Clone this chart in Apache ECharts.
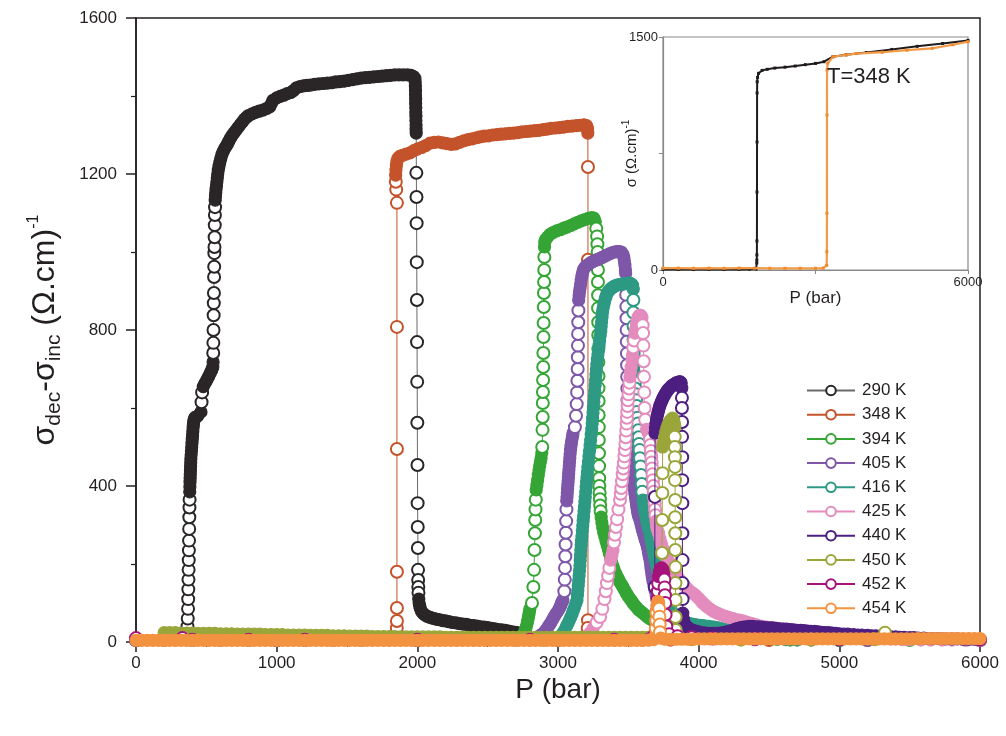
<!DOCTYPE html>
<html><head><meta charset="utf-8">
<script src="https://cdn.jsdelivr.net/npm/echarts@6/dist/echarts.min.js"></script>
<style>html,body{margin:0;padding:0;background:#fff}#c{width:1006px;height:736px}</style>
</head><body><div id="c"></div>
<script>
// ---------- data (P in bar, sigma_dec - sigma_inc in (Ohm.cm)^-1) ----------
const seriesNames = ['290 K','348 K','394 K','405 K','416 K','425 K','440 K','450 K','452 K','454 K'];

const S290 = [[280,8],[320,10],[350,14],[362,22],[366,40],[368,60],[370,85],[371,110],[372,135],[373,160],[374,185],[375,210],[376,235],[377,260],[378,290],[379,320],[380,345],[381,365],[382,385],[383,398],[384,410],[385,420],[386,430],[387,440],[388,450],[389,460],[390,470],[392,480],[394,490],[396,500],[398,510],[400,520],[402,530],[404,540],[406,550],[408,558],[411,566],[415,572],[420,576],[440,580],[462,590],[466,615],[470,640],[478,655],[488,662],[498,668],[508,675],[518,682],[528,690],[538,697],[546,705],[548,718],[549,741],[550,767],[551,800],[552,838],[553,869],[554,895],[555,936],[556,962],[557,997],[558,1013],[559,1038],[560,1069],[561,1095],[562,1115],[563,1133],[565,1143],[567,1152],[569,1161],[572,1170],[575,1180],[578,1190],[581,1200],[585,1210],[590,1220],[596,1230],[603,1240],[611,1250],[620,1258],[630,1265],[640,1271],[650,1277],[660,1284],[670,1291],[682,1298],[695,1305],[710,1312],[725,1319],[740,1326],[755,1333],[770,1340],[785,1345],[800,1350],[825,1354],[850,1358],[875,1361],[903,1364],[928,1368],[950,1372],[962,1380],[974,1389],[1000,1395],[1025,1399],[1050,1402],[1075,1406],[1100,1409],[1120,1414],[1140,1421],[1165,1424],[1190,1426],[1215,1427],[1240,1428],[1270,1430],[1300,1431],[1330,1432],[1360,1433],[1390,1434],[1420,1436],[1450,1437],[1480,1438],[1510,1440],[1540,1442],[1570,1444],[1600,1446],[1630,1447],[1660,1448],[1690,1449],[1720,1450],[1750,1451],[1780,1452],[1810,1453],[1840,1454],[1870,1454],[1900,1454],[1930,1454],[1955,1453],[1972,1450],[1983,1445],[1985,1436],[1986,1425],[1987,1414],[1987,1403],[1988,1392],[1988,1381],[1989,1370],[1989,1359],[1990,1348],[1990,1337],[1991,1326],[1991,1315],[1992,1305],[1993,1203],[1994,1141],[1995,1074],[1996,974],[1997,877],[1998,769],[1999,667],[2000,562],[2001,454],[2002,356],[2003,295],[2004,241],[2005,185],[2006,159],[2007,141],[2008,126],[2010,110],[2013,100],[2017,92],[2022,85],[2030,78],[2042,73],[2055,69],[2070,66],[2085,64],[2100,62],[2120,60],[2140,58],[2160,57],[2180,55],[2200,54],[2225,52],[2250,50],[2275,49],[2300,47],[2325,46],[2350,45],[2375,43],[2400,42],[2425,41],[2450,39],[2475,38],[2500,37],[2525,35],[2550,34],[2575,32],[2600,31],[2625,30],[2650,28],[2675,26],[2700,25],[2725,23],[2750,21],[2770,19]];

const S348 = [[0,5],[200,5],[400,5],[600,5],[800,5],[1000,5],[1200,5],[1400,5],[1600,5],[1800,6],[1850,12],[1854,36],[1855,54],[1855,87],[1855,180],[1855,495],[1855,808],[1855,1126],[1850,1160],[1847,1180],[1846,1197],[1848,1210],[1851,1222],[1855,1232],[1862,1240],[1875,1245],[1895,1248],[1920,1251],[1948,1254],[1975,1260],[2000,1264],[2030,1268],[2060,1273],[2090,1279],[2120,1281],[2150,1282],[2180,1280],[2210,1278],[2240,1276],[2270,1277],[2300,1281],[2330,1285],[2360,1288],[2390,1290],[2420,1293],[2446,1295],[2475,1297],[2505,1298],[2535,1300],[2565,1301],[2595,1302],[2625,1303],[2655,1304],[2685,1305],[2715,1306],[2745,1308],[2775,1309],[2805,1310],[2835,1311],[2865,1312],[2895,1314],[2922,1315],[2950,1317],[2980,1318],[3010,1319],[3040,1320],[3070,1322],[3100,1323],[3130,1324],[3160,1325],[3185,1326],[3203,1324],[3210,1317],[3212,1305],[3213,1218],[3213,980],[3213,56],[3211,36],[3230,15],[3300,8],[3800,6],[4500,5],[5200,5],[6000,5]];

const S394 = [[0,6],[400,6],[800,6],[1200,6],[1600,6],[2000,6],[2400,6],[2700,8],[2740,14],[2755,20],[2765,28],[2772,36],[2778,44],[2783,52],[2788,60],[2792,68],[2796,76],[2800,85],[2815,100],[2825,141],[2830,185],[2833,236],[2836,279],[2838,313],[2840,340],[2842,365],[2845,390],[2850,402],[2855,415],[2860,428],[2865,440],[2870,452],[2875,462],[2880,472],[2885,485],[2888,500],[2890,544],[2891,577],[2892,613],[2893,641],[2894,672],[2895,705],[2896,741],[2897,782],[2898,818],[2899,859],[2900,895],[2901,923],[2902,954],[2903,987],[2904,1013],[2906,1025],[2912,1032],[2925,1038],[2943,1045],[2965,1050],[2990,1054],[3015,1057],[3040,1061],[3064,1064],[3090,1068],[3115,1072],[3140,1076],[3165,1080],[3190,1083],[3215,1086],[3240,1088],[3255,1087],[3265,1078],[3272,1060],[3278,1040],[3280,1020],[3282,1000],[3283,980],[3284,954],[3284,923],[3285,889],[3285,856],[3286,820],[3286,787],[3287,751],[3287,718],[3288,682],[3288,651],[3289,618],[3289,582],[3290,551],[3290,518],[3291,484],[3292,451],[3293,420],[3294,400],[3296,382],[3298,366],[3300,350],[3303,335],[3307,320],[3312,306],[3318,293],[3325,281],[3333,270],[3341,259],[3350,248],[3358,237],[3366,226],[3374,215],[3382,204],[3391,194],[3400,185],[3410,176],[3420,168],[3430,161],[3440,154],[3450,148],[3462,141],[3474,133],[3486,125],[3498,118],[3510,112],[3522,106],[3533,100],[3546,94],[3560,88],[3575,82],[3590,78],[3604,74],[3620,69],[3636,64],[3652,60],[3668,57],[3685,54],[3702,51],[3720,49],[3740,47],[3760,45],[3780,43],[3800,42],[3825,41],[3850,40],[3875,39],[3900,38],[3925,37],[3950,36],[3975,35],[4000,35],[4025,34],[4050,33],[4075,32],[4100,31],[4125,30],[4150,29],[4175,28],[4200,27],[4225,25],[4250,24],[4275,22],[4300,20],[4330,18],[4360,16],[4400,14],[4450,12],[4500,10],[4560,8],[4650,6],[5000,5],[5500,5],[6000,5]];

const S405 = [[0,5],[1000,5],[2000,5],[2700,6],[2800,8],[2850,12],[2865,15],[2880,18],[2890,21],[2900,24],[2912,30],[2925,36],[2937,43],[2950,50],[2962,58],[2975,66],[2987,73],[3000,80],[3008,85],[3014,90],[3020,95],[3025,100],[3030,104],[3035,108],[3045,130],[3048,160],[3050,190],[3052,220],[3054,250],[3056,280],[3058,310],[3060,340],[3062,362],[3064,372],[3066,382],[3068,392],[3070,402],[3072,412],[3074,422],[3076,432],[3078,442],[3080,452],[3082,462],[3084,472],[3086,482],[3089,492],[3092,502],[3096,512],[3100,521],[3104,529],[3107,536],[3120,551],[3128,580],[3133,610],[3136,640],[3138,670],[3140,700],[3141,730],[3142,760],[3143,790],[3144,820],[3145,850],[3147,877],[3150,888],[3153,898],[3157,908],[3161,918],[3165,928],[3170,938],[3175,947],[3181,955],[3190,960],[3200,964],[3215,968],[3230,972],[3245,975],[3260,978],[3277,980],[3295,983],[3313,986],[3330,989],[3348,992],[3365,995],[3383,998],[3400,1000],[3418,1001],[3435,1001],[3450,1000],[3462,994],[3468,986],[3472,977],[3476,966],[3479,955],[3481,945],[3483,920],[3485,890],[3486,860],[3487,830],[3488,800],[3489,770],[3490,740],[3491,710],[3492,680],[3493,650],[3494,620],[3496,590],[3497,560],[3499,550],[3501,540],[3503,530],[3505,520],[3507,510],[3510,500],[3512,490],[3515,480],[3517,471],[3520,462],[3523,451],[3526,440],[3530,428],[3533,415],[3537,406],[3540,398],[3544,389],[3547,380],[3551,371],[3554,362],[3558,353],[3561,345],[3565,337],[3568,330],[3572,325],[3576,320],[3583,313],[3589,304],[3595,295],[3601,286],[3608,278],[3614,270],[3620,262],[3627,255],[3633,249],[3638,240],[3643,230],[3648,220],[3654,210],[3658,200],[3661,190],[3665,181],[3668,172],[3672,163],[3676,155],[3683,144],[3690,133],[3698,120],[3704,108],[3712,100],[3720,92],[3730,85],[3739,77],[3752,71],[3765,66],[3780,61],[3796,56],[3812,53],[3830,50],[3850,47],[3870,45],[3895,42],[3920,40],[3950,38],[3980,36],[4015,34],[4050,32],[4100,30],[4150,27],[4200,24],[4250,22],[4320,19],[4400,17],[4460,15],[4520,13],[4580,11],[4640,9],[4700,7],[4800,6],[5200,5],[6000,5]];

const S416 = [[0,5],[1000,5],[2000,5],[2900,6],[3000,10],[3018,16],[3036,23],[3048,31],[3060,40],[3070,47],[3080,55],[3090,63],[3100,72],[3109,81],[3118,90],[3127,99],[3135,108],[3138,120],[3141,132],[3144,145],[3147,157],[3150,170],[3153,183],[3156,196],[3158,209],[3160,222],[3162,236],[3165,248],[3167,260],[3170,272],[3173,285],[3176,298],[3179,310],[3182,322],[3185,335],[3188,347],[3191,360],[3194,372],[3197,385],[3200,397],[3203,410],[3206,422],[3209,435],[3212,449],[3216,462],[3220,476],[3224,490],[3228,504],[3232,518],[3236,532],[3240,546],[3243,560],[3246,574],[3249,588],[3252,602],[3255,616],[3258,630],[3261,644],[3264,658],[3267,672],[3270,686],[3273,699],[3276,712],[3280,725],[3284,737],[3288,749],[3292,761],[3296,773],[3300,785],[3304,797],[3307,809],[3310,821],[3313,833],[3316,845],[3320,855],[3325,864],[3330,872],[3336,880],[3342,887],[3348,893],[3356,898],[3365,902],[3375,906],[3385,908],[3395,911],[3405,913],[3419,915],[3432,916],[3446,917],[3460,918],[3473,919],[3487,919],[3500,920],[3512,920],[3522,918],[3530,915],[3535,905],[3536,877],[3536,845],[3537,810],[3537,775],[3538,740],[3538,705],[3541,692],[3544,680],[3547,665],[3550,650],[3553,635],[3556,620],[3559,605],[3562,590],[3565,575],[3568,560],[3571,543],[3574,525],[3577,508],[3580,492],[3583,471],[3587,450],[3591,428],[3595,405],[3599,385],[3604,364],[3609,352],[3615,340],[3621,328],[3628,315],[3634,305],[3641,295],[3648,287],[3654,279],[3659,267],[3665,255],[3672,243],[3680,230],[3686,220],[3692,210],[3698,201],[3704,192],[3711,181],[3718,170],[3725,160],[3732,150],[3739,141],[3746,133],[3755,124],[3765,115],[3773,107],[3782,100],[3791,93],[3800,86],[3808,80],[3817,74],[3828,69],[3840,64],[3852,60],[3865,57],[3878,54],[3890,52],[3905,50],[3920,48],[3935,47],[3950,46],[3965,45],[3980,44],[3995,43],[4010,43],[4030,42],[4050,41],[4070,40],[4090,39],[4110,38],[4130,37],[4150,35],[4170,34],[4190,32],[4210,31],[4230,29],[4250,27],[4270,25],[4290,23],[4310,21],[4330,19],[4355,17],[4380,16],[4415,14],[4450,13],[4500,11],[4550,9],[4620,7],[4700,6],[5000,5],[6000,5]];

const S425 = [[0,5],[1000,5],[2000,5],[3000,6],[3180,10],[3210,16],[3227,23],[3250,35],[3275,50],[3299,64],[3315,85],[3330,110],[3340,130],[3348,151],[3356,170],[3365,190],[3375,210],[3383,222],[3391,236],[3398,255],[3405,275],[3412,295],[3420,315],[3430,340],[3441,364],[3446,380],[3450,395],[3455,412],[3460,430],[3464,445],[3468,460],[3472,476],[3476,492],[3479,508],[3482,525],[3485,542],[3488,560],[3490,575],[3492,590],[3495,605],[3497,620],[3501,635],[3505,650],[3508,665],[3512,680],[3516,693],[3520,705],[3526,723],[3530,735],[3535,755],[3541,773],[3547,792],[3552,803],[3558,815],[3563,824],[3569,833],[3576,837],[3583,838],[3590,837],[3597,832],[3602,812],[3605,792],[3607,760],[3609,720],[3611,680],[3613,640],[3616,600],[3620,570],[3630,545],[3642,536],[3654,520],[3657,505],[3660,490],[3663,475],[3666,460],[3669,445],[3672,430],[3675,415],[3678,400],[3681,385],[3684,370],[3687,355],[3690,340],[3693,325],[3697,310],[3701,298],[3705,290],[3715,279],[3725,265],[3735,252],[3745,240],[3755,229],[3765,220],[3775,213],[3785,207],[3795,201],[3805,196],[3817,192],[3830,183],[3842,174],[3855,165],[3868,158],[3880,152],[3895,146],[3910,140],[3925,135],[3940,130],[3960,125],[3980,119],[4000,112],[4015,106],[4030,100],[4045,95],[4060,90],[4080,85],[4100,80],[4120,76],[4140,73],[4165,69],[4190,66],[4215,63],[4245,60],[4270,57],[4290,56],[4310,54],[4330,52],[4350,50],[4370,48],[4390,46],[4410,44],[4440,41],[4465,39],[4486,38],[4510,37],[4530,36],[4555,35],[4580,34],[4605,33],[4630,32],[4655,31],[4680,30],[4700,29],[4720,28],[4745,27],[4770,26],[4795,25],[4820,25],[4845,24],[4870,23],[4895,22],[4920,21],[4940,20],[4960,20],[4980,19],[5000,18],[5025,17],[5050,16],[5075,15],[5100,14],[5125,13],[5150,12],[5175,12],[5197,11],[5230,10],[5260,10],[5300,9],[5330,9],[5370,8],[5400,8],[5450,7],[5500,7],[5580,6],[5650,6],[5730,6],[5800,6],[5900,5],[6000,5]];

const S440 = [[0,5],[1000,5],[2000,5],[3000,5],[3600,6],[3660,10],[3685,20],[3688,141],[3689,372],[3690,536],[3693,548],[3696,560],[3700,570],[3705,579],[3710,587],[3715,594],[3720,601],[3725,607],[3731,613],[3737,618],[3743,623],[3750,628],[3757,633],[3764,637],[3771,641],[3778,645],[3785,648],[3793,651],[3801,654],[3809,657],[3817,659],[3826,661],[3835,663],[3844,665],[3853,666],[3862,667],[3870,667],[3876,664],[3880,651],[3881,626],[3881,600],[3882,564],[3882,526],[3883,474],[3883,415],[3884,356],[3884,279],[3885,210],[3885,151],[3886,110],[3887,74],[3891,60],[3895,50],[3905,44],[3920,38],[3940,33],[3960,30],[3980,28],[4000,26],[4025,24],[4050,23],[4075,22],[4100,22],[4125,22],[4150,23],[4175,24],[4200,26],[4220,28],[4240,30],[4260,33],[4280,35],[4300,37],[4320,38],[4340,39],[4360,40],[4380,40],[4400,39],[4425,39],[4450,38],[4475,37],[4500,36],[4525,36],[4550,35],[4575,34],[4600,33],[4625,33],[4650,32],[4675,31],[4700,30],[4725,30],[4750,29],[4775,28],[4800,27],[4825,27],[4850,26],[4875,25],[4900,24],[4925,24],[4950,23],[4975,22],[5000,21],[5030,20],[5060,20],[5100,19],[5130,18],[5160,18],[5200,17],[5230,16],[5260,16],[5300,15],[5330,14],[5360,14],[5400,13],[5430,12],[5460,12],[5500,11],[5530,11],[5560,10],[5600,10],[5640,9],[5680,9],[5720,9],[5760,8],[5800,8],[5840,8],[5880,7],[5920,7],[5960,7],[6000,6]];

const S450 = [[200,24],[240,24],[280,24],[320,23],[360,23],[400,23],[440,22],[480,22],[520,22],[560,22],[600,21],[640,21],[680,21],[720,20],[760,20],[800,20],[840,20],[880,20],[920,19],[960,19],[1000,19],[1040,19],[1080,18],[1120,18],[1160,18],[1200,18],[1240,17],[1280,17],[1320,17],[1360,17],[1400,16],[1440,16],[1480,16],[1520,15],[1560,15],[1600,15],[1640,15],[1680,14],[1720,14],[1760,14],[1800,14],[1840,14],[1880,13],[1920,13],[1960,13],[2000,13],[2040,13],[2080,13],[2120,13],[2160,13],[2200,12],[2240,12],[2280,12],[2320,12],[2360,12],[2400,12],[2440,12],[2480,12],[2520,12],[2560,12],[2600,12],[2640,12],[2680,12],[2720,12],[2760,12],[2800,12],[2840,12],[2880,12],[2920,12],[2960,12],[3000,12],[3040,12],[3080,12],[3120,12],[3160,12],[3200,12],[3240,12],[3280,12],[3320,12],[3360,12],[3400,12],[3440,12],[3480,12],[3520,12],[3560,12],[3600,12],[3640,12],[3680,12],[3710,13],[3730,31],[3738,141],[3740,228],[3741,313],[3742,382],[3743,433],[3744,500],[3750,512],[3758,525],[3766,538],[3774,548],[3782,556],[3790,563],[3798,568],[3806,571],[3814,574],[3822,570],[3828,560],[3830,551],[3830,526],[3831,500],[3831,474],[3832,449],[3832,415],[3833,364],[3833,320],[3834,279],[3834,236],[3835,192],[3835,151],[3836,108],[3836,64],[3837,31],[3860,12],[3950,7],[4300,6],[4800,6],[5250,7],[5325,24]];

const S452 = [[0,10],[330,10],[400,6],[800,6],[1200,6],[2000,6],[2800,6],[3400,6],[3650,7],[3690,20],[3700,40],[3704,80],[3707,110],[3710,130],[3712,150],[3715,168],[3720,180],[3728,188],[3736,190],[3745,186],[3752,175],[3756,160],[3758,140],[3760,120],[3762,100],[3765,70],[3770,40],[3790,20],[3850,15],[3950,12],[4100,9],[4400,7],[5000,6],[6000,6]];

const S454 = [[0,4],[40,4],[80,4],[120,4],[160,4],[200,4],[240,4],[280,4],[320,4],[360,4],[400,4],[440,4],[480,4],[520,4],[560,4],[600,4],[640,4],[680,4],[720,4],[760,4],[800,4],[840,4],[880,4],[920,4],[960,4],[1000,4],[1040,4],[1080,4],[1120,4],[1160,4],[1200,4],[1240,4],[1280,4],[1320,4],[1360,4],[1400,4],[1440,4],[1480,4],[1520,4],[1560,4],[1600,4],[1640,4],[1680,4],[1720,4],[1760,4],[1800,4],[1840,4],[1880,4],[1920,4],[1960,4],[2000,4],[2040,4],[2080,4],[2120,4],[2160,4],[2200,4],[2240,4],[2280,4],[2320,4],[2360,4],[2400,4],[2440,4],[2480,4],[2520,4],[2560,4],[2600,4],[2640,4],[2680,4],[2720,4],[2760,4],[2800,4],[2840,4],[2880,4],[2920,4],[2960,4],[3000,4],[3040,4],[3080,4],[3120,4],[3160,4],[3200,4],[3240,4],[3280,4],[3320,4],[3360,4],[3400,4],[3440,4],[3480,4],[3520,4],[3560,4],[3600,4],[3640,5],[3680,6],[3690,15],[3695,35],[3698,55],[3700,75],[3703,92],[3707,100],[3712,104],[3716,100],[3719,85],[3721,65],[3723,45],[3725,25],[3730,10],[3760,7],[3800,7],[3840,7],[3880,7],[3920,7],[3960,7],[4000,8],[4040,8],[4080,8],[4120,8],[4160,8],[4200,8],[4240,8],[4280,8],[4320,8],[4360,8],[4400,8],[4440,8],[4480,8],[4520,8],[4560,8],[4600,8],[4640,8],[4680,8],[4720,8],[4760,8],[4800,8],[4840,8],[4880,8],[4920,8],[4960,8],[5000,8],[5040,8],[5080,8],[5120,8],[5160,8],[5200,8],[5240,8],[5280,8],[5320,8],[5360,8],[5400,8],[5440,8],[5480,8],[5520,8],[5560,9],[5600,9],[5640,9],[5680,9],[5720,9],[5760,9],[5800,9],[5840,9],[5880,9],[5920,9],[5960,9],[6000,9]];

// inset (T = 348 K): sigma vs P
const insetDec = [[0,4],[300,4],[600,3],[900,4],[1200,3],[1500,4],[1700,5],[1830,6],[1845,45],[1846,64],[1847,97],[1848,187],[1849,502],[1850,824],[1851,1140],[1853,1212],[1860,1240],[1880,1266],[1950,1285],[2050,1292],[2200,1300],[2400,1306],[2600,1313],[2800,1322],[3000,1330],[3167,1341],[3344,1373],[3600,1385],[4000,1400],[4500,1420],[5000,1440],[5500,1458],[6000,1478]];
const insetInc = [[0,12],[300,12],[600,11],[900,12],[1200,11],[1500,12],[1800,12],[2100,11],[2400,11],[2700,11],[3000,11],[3150,12],[3220,30],[3224,118],[3225,365],[3226,998],[3227,1288],[3240,1331],[3344,1373],[3600,1385],[3800,1393],[4311,1402],[4800,1415],[5295,1427],[5700,1450],[6000,1470]];
const arrowDown = [[1416,933],[1416,373]];
const arrowUp = [[3600,386],[3600,979]];

const mainSeries = [S290,S348,S394,S405,S416,S425,S440,S450,S452,S454];
const markColors = ['#2a2627','#c4532b','#35a535','#7e57a8','#2e9a84','#e38cbd','#4d1f80','#9aa63a','#a5147a','#f39340'];
const lineColors = ['#6a6a6a','#c4532b','#35a535','#7e57a8','#2e9a84','#e38cbd','#4d1f80','#9aa63a','#a5147a','#f39340'];

// ---------- layout ----------
const G = {left:136, right:26, top:18, bottom:94};
const W = 1006, H = 736;
const pxX = (W - G.left - G.right) / 6000, pxY = (H - G.top - G.bottom) / 1600;
const DENSE_PX = 5.8; // where neighbouring rings overlap this closely, they read as a solid band

function styled(d, c){
  return d.map((p,i)=>{
    let m = Infinity;
    [i-1,i+1].forEach(j=>{
      if (j>=0 && j<d.length){
        const dx=(d[j][0]-p[0])*pxX, dy=(d[j][1]-p[1])*pxY;
        m = Math.min(m, Math.hypot(dx,dy));
      }
    });
    if (m < DENSE_PX) return {value:p, symbol:'circle', itemStyle:{color:c, borderColor:c}};
    return {value:p};
  });
}

const TXT = '#231f20';
const FONT = 'Liberation Sans, Arial, sans-serif';
const chart = echarts.init(document.getElementById('c'), null, {renderer:'canvas'});

const series = mainSeries.map((d,i)=>({
  name: seriesNames[i], type:'line', xAxisIndex:0, yAxisIndex:0,
  data: styled(d, markColors[i]), symbol:'emptyCircle', symbolSize:12, showAllSymbol:true,
  itemStyle:{color: markColors[i], borderColor: markColors[i], borderWidth:1.2},
  lineStyle:{color: lineColors[i], width:1},
  emphasis:{disabled:true}, z: 2+i
}));

series.push({
  name:'inset-dec', type:'line', xAxisIndex:1, yAxisIndex:1, data: insetDec,
  symbol:'rect', symbolSize:3, showAllSymbol:true,
  itemStyle:{color:'#1f1b1c'}, lineStyle:{color:'#1f1b1c', width:2},
  markLine:{silent:true, symbol:['none','arrow'], symbolSize:[7,9], label:{show:false},
    lineStyle:{color:'#1f1b1c', width:2, type:'solid'},
    data:[[{coord: arrowDown[0]},{coord: arrowDown[1]}]]},
  emphasis:{disabled:true}, z:20
});
series.push({
  name:'inset-inc', type:'line', xAxisIndex:1, yAxisIndex:1, data: insetInc,
  symbol:'rect', symbolSize:3, showAllSymbol:true,
  itemStyle:{color:'#f08a30'}, lineStyle:{color:'#f29a48', width:2.2},
  markLine:{silent:true, symbol:['none','arrow'], symbolSize:[7,9], label:{show:false},
    lineStyle:{color:'#f08a30', width:2, type:'solid'},
    data:[[{coord: arrowUp[0]},{coord: arrowUp[1]}]]},
  emphasis:{disabled:true}, z:21
});

chart.setOption({
  animation:false,
  backgroundColor:'#fff',
  textStyle:{fontFamily:FONT},
  grid:[
    {left:G.left, right:G.right, top:G.top, bottom:G.bottom, show:true, borderColor:TXT, borderWidth:1.5, backgroundColor:'transparent'},
    {left:663, top:37, width:305, height:233, show:true, borderColor:'#8a8a8a', borderWidth:1.2, backgroundColor:'#fff', z:10}
  ],
  xAxis:[
    {type:'value', gridIndex:0, min:0, max:6000, interval:1000,
     axisLine:{lineStyle:{color:TXT, width:1.5}}, splitLine:{show:false},
     axisTick:{show:true, inside:false, length:10, lineStyle:{color:TXT, width:1.5}},
     minorTick:{show:true, splitNumber:2, length:5, lineStyle:{color:TXT, width:1.2}},
     axisLabel:{color:TXT, fontSize:17, margin:13, formatter:v=>String(v)},
     name:'P (bar)', nameLocation:'middle', nameGap:34, nameMoveOverlap:false,
     nameTextStyle:{color:TXT, fontSize:28}},
    {type:'value', gridIndex:1, min:0, max:6000, interval:3000, z:11,
     axisLine:{lineStyle:{color:'#8a8a8a', width:1.2}}, splitLine:{show:false},
     axisTick:{show:true, length:4, lineStyle:{color:'#8a8a8a'}},
     axisLabel:{color:TXT, fontSize:13, margin:6, formatter:v=> (v===3000?'':String(v))},
     name:'P (bar)', nameLocation:'middle', nameGap:20, nameMoveOverlap:false,
     nameTextStyle:{color:TXT, fontSize:17}}
  ],
  yAxis:[
    {type:'value', gridIndex:0, min:0, max:1600, interval:400,
     axisLine:{lineStyle:{color:TXT, width:1.5}}, splitLine:{show:false},
     axisTick:{show:true, inside:false, length:10, lineStyle:{color:TXT, width:1.5}},
     minorTick:{show:true, splitNumber:2, length:5, lineStyle:{color:TXT, width:1.2}},
     axisLabel:{color:TXT, fontSize:17, margin:19, formatter:v=>String(v)},
     name:'{s|σ}{b|dec}{s|-σ}{b|inc}{s| (Ω.cm)}{p|-1}', nameLocation:'middle', nameGap:68, nameRotate:90, nameMoveOverlap:false,
     nameTextStyle:{color:TXT, rich:{
       s:{fontSize:32, color:TXT, lineHeight:46, verticalAlign:'middle'},
       b:{fontSize:21, color:TXT, lineHeight:46, verticalAlign:'bottom', padding:[0,0,3,0]},
       p:{fontSize:16, color:TXT, lineHeight:46, verticalAlign:'top', padding:[4,0,0,0]}
     }}},
    {type:'value', gridIndex:1, min:0, max:1500, interval:750, z:11,
     axisLine:{lineStyle:{color:'#8a8a8a', width:1.2}}, splitLine:{show:false},
     axisTick:{show:true, length:4, lineStyle:{color:'#8a8a8a'}},
     axisLabel:{color:TXT, fontSize:13, margin:5, formatter:v=> (v===750?'':String(v))},
     name:'{s|σ (Ω.cm)}{p|-1}', nameLocation:'middle', nameGap:20, nameRotate:90, nameMoveOverlap:false,
     nameTextStyle:{color:TXT, rich:{
       s:{fontSize:15, color:TXT, lineHeight:22, verticalAlign:'middle'},
       p:{fontSize:10, color:TXT, lineHeight:22, verticalAlign:'top'}
     }}}
  ],
  legend:{
    data: seriesNames, orient:'vertical', left:806, top:382, itemWidth:48, itemHeight:12, itemGap:7.2,
    padding:0, selectedMode:false,
    textStyle:{color:TXT, fontSize:17, padding:[0,0,0,2]}
  },
  graphic:[
    {type:'text', left:827, top:66, z:100, style:{text:'T=348 K', fill:TXT, fontSize:22, fontFamily:FONT}}
  ],
  series: series
});
</script>
</body></html>
